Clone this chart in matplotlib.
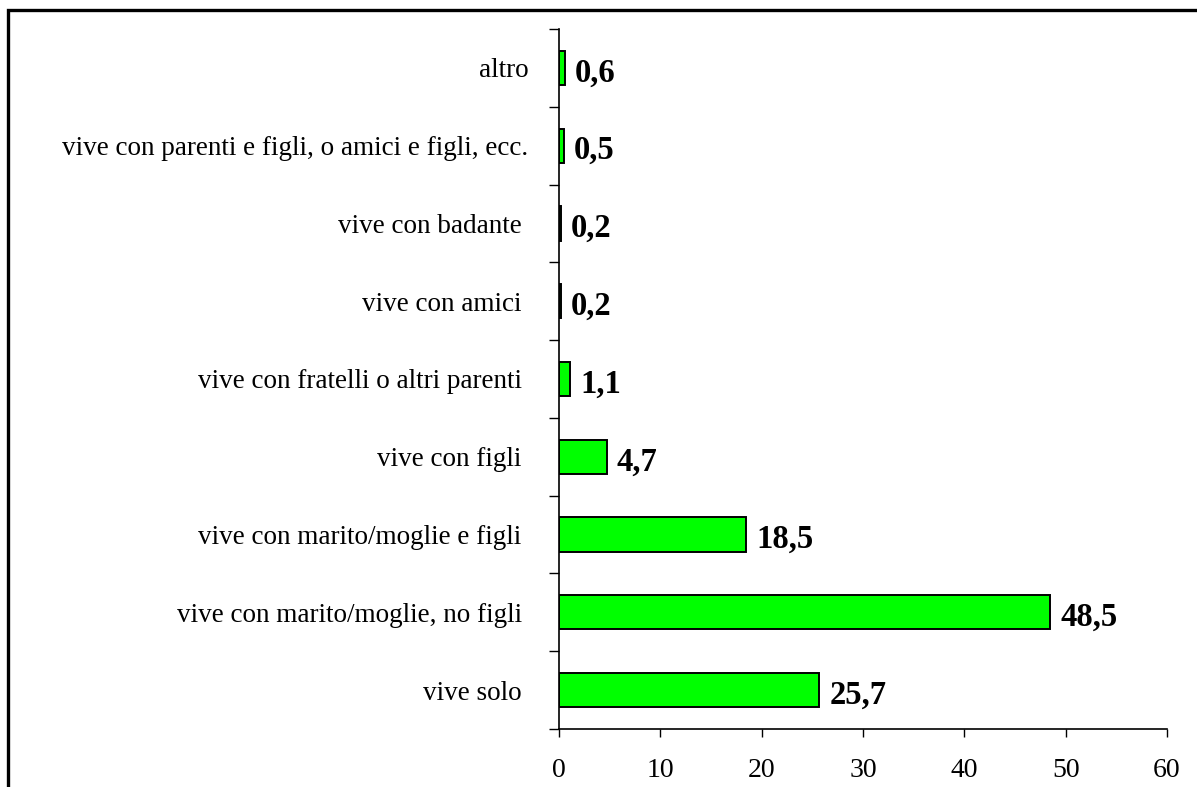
import matplotlib
matplotlib.use("Agg")
import matplotlib.pyplot as plt
from matplotlib.patches import Rectangle

categories = [
    "vive solo ",
    "vive con marito/moglie, no figli ",
    "vive con marito/moglie e figli ",
    "vive con figli ",
    "vive con fratelli o altri parenti ",
    "vive con amici ",
    "vive con badante ",
    "vive con parenti e figli, o amici e figli, ecc.",
    "altro",
]
values = [25.7, 48.5, 18.5, 4.7, 1.1, 0.2, 0.2, 0.5, 0.6]
value_labels = ["25,7", "48,5", "18,5", "4,7", "1,1", "0,2", "0,2", "0,5", "0,6"]
xticks = [0, 10, 20, 30, 40, 50, 60]

plt.rcParams["font.family"] = ["Liberation Serif", "DejaVu Serif"]

W, H = 1197, 787
fig = plt.figure(figsize=(W / 100, H / 100), dpi=100)
fig.patch.set_facecolor("white")
ax = fig.add_axes([559 / W, 1 - 729 / H, (1167 - 559) / W, (729 - 29) / H])

pos = list(range(len(categories)))
ax.barh(pos, values, height=0.44, color="#00FF00", edgecolor="black", linewidth=1.4)
for p, v, lab in zip(pos, values, value_labels):
    ax.annotate(lab, (v, p), xytext=(10, -5), textcoords="offset pixels",
                ha="left", va="center", fontsize=23.5, fontweight="bold", color="black")

ax.set_xlim(0, 60)
ax.set_ylim(-0.5, len(categories) - 0.5)
ax.set_xticks(xticks)
ax.set_xticklabels([str(t) for t in xticks], fontsize=20)
ax.set_yticks([i - 0.5 for i in range(len(categories) + 1)])
ax.set_yticklabels([])
ax.set_yticks(pos, minor=True)
ax.set_yticklabels(categories, minor=True, fontsize=19.5)
ax.tick_params(axis="y", which="major", length=7, width=1, direction="out")
ax.tick_params(axis="y", which="minor", length=0, pad=22)
ax.tick_params(axis="x", which="major", length=6, width=1, direction="out", pad=15, colors="black")
for s in ["top", "right"]:
    ax.spines[s].set_visible(False)
for s in ["left", "bottom"]:
    ax.spines[s].set_linewidth(1.2)
    ax.spines[s].set_color("black")

frame = Rectangle((8 / W, -0.05), 1.2, 1 - 10 / H + 0.05, transform=fig.transFigure,
                  fill=False, edgecolor="black", linewidth=2.4, clip_on=False)
fig.patches.append(frame)

fig.savefig("out.png", dpi=100)
